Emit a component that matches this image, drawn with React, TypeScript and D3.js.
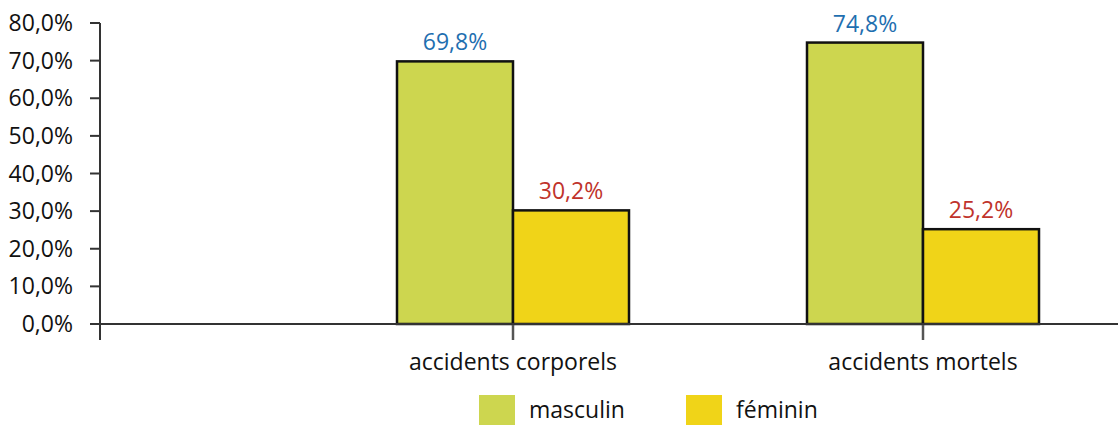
import React from "react";
import * as d3 from "d3";

const categories = ["accidents corporels", "accidents mortels"];
const seriesNames = ["masculin", "féminin"];
const masculin = [69.8, 74.8];
const feminin = [30.2, 25.2];
const yTicks = [0, 10, 20, 30, 40, 50, 60, 70, 80];

const W = 1118;
const H = 425;
const FONT = "'Open Sans', sans-serif";
const colors = ["#cdd64f", "#f0d418"];
const labelColors = ["#1f6fb0", "#c0332b"];

const fmt = (v: number) => v.toFixed(1).replace(".", ",") + "%";

export default function App() {
  const axisX = 100;
  const y = d3.scaleLinear().domain([0, 80]).range([324, 23]);
  const x0 = d3.scaleBand<string>().domain(categories).range([308, 1128]).padding(0);
  const x1 = d3.scaleBand<string>().domain(seriesNames).range([-116, 116]).padding(0);
  const values = [masculin, feminin];

  return (
    <svg width={W} height={H} style={{ position: "absolute", left: 0, top: 0, background: "#fff" }} fontFamily={FONT}>
      {yTicks.map((t) => (
        <g key={t}>
          <line x1={axisX - 10} x2={axisX} y1={y(t)} y2={y(t)} stroke="#333" strokeWidth={2} />
          <text x={73} y={y(t)} dy="0.35em" textAnchor="end" fontSize={23} fill="#111">
            {fmt(t)}
          </text>
        </g>
      ))}
      {categories.map((c, ci) => {
        const cx = (x0(c) as number) + x0.bandwidth() / 2;
        return (
          <g key={c}>
            {seriesNames.map((s, si) => {
              const v = values[si][ci];
              const bx = cx + (x1(s) as number);
              return (
                <g key={s}>
                  <rect
                    x={bx}
                    y={y(v)}
                    width={x1.bandwidth()}
                    height={y(0) - y(v)}
                    fill={colors[si]}
                    stroke="#111"
                    strokeWidth={2.5}
                  />
                  <text
                    x={bx + x1.bandwidth() / 2}
                    y={y(v) - 11}
                    textAnchor="middle"
                    fontSize={23}
                    fill={labelColors[si]}
                  >
                    {fmt(v)}
                  </text>
                </g>
              );
            })}
            <line x1={cx} x2={cx} y1={y(0)} y2={y(0) + 16} stroke="#555" strokeWidth={2.5} />
            <text x={cx} y={370} textAnchor="middle" fontSize={23} fill="#111">
              {c}
            </text>
          </g>
        );
      })}
      <line x1={axisX} x2={axisX} y1={y(80)} y2={y(0) + 16} stroke="#333" strokeWidth={2} />
      <line x1={axisX} x2={W} y1={y(0)} y2={y(0)} stroke="#333" strokeWidth={2} />
      {seriesNames.map((s, i) => {
        const lx = [479, 686][i];
        return (
          <g key={s}>
            <rect x={lx} y={395} width={36} height={36} fill={colors[i]} />
            <text x={lx + 50} y={418} fontSize={23} fill="#111">
              {s}
            </text>
          </g>
        );
      })}
    </svg>
  );
}
